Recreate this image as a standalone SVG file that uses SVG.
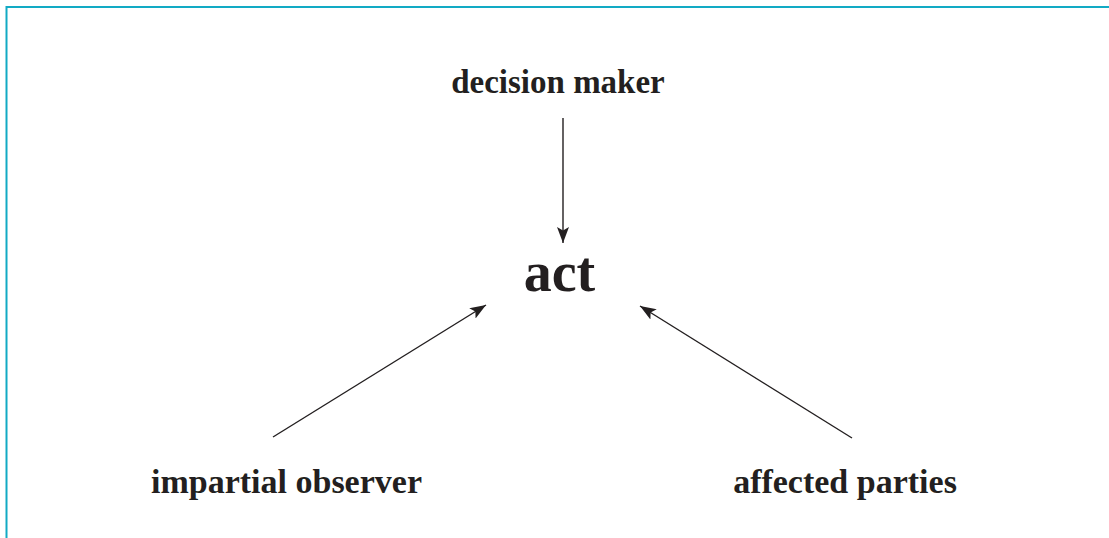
<svg xmlns="http://www.w3.org/2000/svg" width="1109" height="538" viewBox="0 0 1109 538">
<style>
.lbl{font-family:"Liberation Serif","Times New Roman",serif;font-weight:bold;fill:#231f20;text-anchor:middle}
.conn{stroke:#231f20;stroke-width:1.4;fill:none;marker-end:url(#ah)}
</style>
<defs>
<marker id="ah" viewBox="0 0 16 12" refX="16" refY="6" markerWidth="16" markerHeight="12" markerUnits="userSpaceOnUse" orient="auto">
<path d="M0,0 L16,6 L0,12 L3.5,6 Z" fill="#231f20"/>
</marker>
</defs>
<rect width="1109" height="538" fill="#ffffff"/>
<path d="M6.5,540 V7 H1112" fill="none" stroke="#12aac4" stroke-width="2"/>
<g id="connectors">
<line class="conn" x1="563" y1="118" x2="563" y2="243"/>
<line class="conn" x1="273" y1="437" x2="486" y2="305"/>
<line class="conn" x1="852" y1="438" x2="640" y2="306"/>
</g>
<g id="node-decision-maker"><text class="lbl" x="558" y="93" font-size="33">decision maker</text></g>
<g id="node-act"><text class="lbl" x="559.5" y="291" font-size="56">act</text></g>
<g id="node-impartial-observer"><text class="lbl" x="286.5" y="493" font-size="34">impartial observer</text></g>
<g id="node-affected-parties"><text class="lbl" x="845" y="493" font-size="34">affected parties</text></g>
</svg>
